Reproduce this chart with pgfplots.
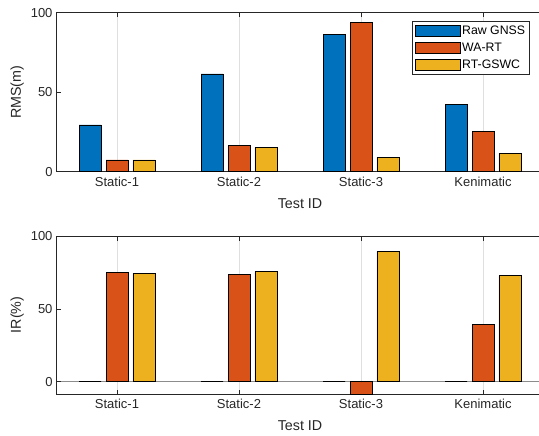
\documentclass[border=0pt]{standalone}
\usepackage{fontspec}
\setmainfont{Liberation Sans}
\usepackage{pgfplots}
\pgfplotsset{compat=1.18}
\definecolor{mblue}{RGB}{0,114,189}
\definecolor{morange}{RGB}{217,83,25}
\definecolor{myellow}{RGB}{237,177,32}
\definecolor{axgray}{RGB}{38,38,38}
\definecolor{gridgray}{RGB}{223,223,223}
\definecolor{basegray}{RGB}{140,140,140}
\pgfplotsset{layers/gridbelow/.define layer set={axis background,axis grid,pre main,main,axis ticks,axis lines,axis tick labels,axis descriptions,axis foreground}{}}
\pgfplotsset{
 mystyle/.style={
  set layers=gridbelow,
  scale only axis, width=488bp,
  xmin=0.5, xmax=4.5,
  xtick={1,2,3,4}, xticklabels={Static-1,Static-2,Static-3,Kenimatic},
  ytick={0,50,100},
  tick align=inside, xtick pos=both, ytick pos=both,
  xticklabel pos=lower, yticklabel pos=left,
  major tick length=4.5bp,
  tick style={axgray, line width=0.6bp},
  axis line style={axgray, line width=0.6bp},
  xmajorgrids, major x grid style={gridgray, line width=1bp},
  ticklabel style={font=\fontsize{13bp}{15bp}\selectfont, text=axgray},
  xticklabel style={yshift=-2bp},
  label style={font=\fontsize{14.3bp}{16bp}\selectfont, text=axgray},
  xlabel style={yshift=-5bp},
  /pgf/number format/assume math mode=true,
  anchor=north west,
 },
 mybar/.style={ybar, bar width=0.18, draw=black, line width=0.5bp},
}
\newcommand{\legrect}[1]{\draw[fill=#1,draw=black,line width=0.5bp] (0bp,-5.5bp) rectangle (45bp,5.5bp);}
\begin{document}
\begin{tikzpicture}
\begin{axis}[mystyle, name=top, at={(0,0)}, height=159bp,
  ymin=0, ymax=100,
  xlabel={Test ID}, ylabel={RMS(m)},
  legend cell align=left,
  legend style={at={(rel axis cs:0.971,0.948)}, anchor=north east, draw=axgray, line width=0.5bp,
    font=\fontsize{12.3bp}{14bp}\selectfont, inner xsep=3bp, inner ysep=2.5bp, row sep=3.2bp,
    nodes={inner xsep=1.5bp}},
]
\addplot[mybar, fill=mblue, bar shift=-0.221, legend image code/.code={\legrect{mblue}}] coordinates {(1,29.4) (2,61.6) (3,86.6) (4,42.4)};
\addlegendentry{Raw GNSS}
\addplot[mybar, fill=morange, bar shift=0, legend image code/.code={\legrect{morange}}] coordinates {(1,7.4) (2,16.4) (3,94.0) (4,25.4)};
\addlegendentry{WA-RT}
\addplot[mybar, fill=myellow, bar shift=0.221, legend image code/.code={\legrect{myellow}}] coordinates {(1,7.4) (2,15.3) (3,9.0) (4,11.6)};
\addlegendentry{RT-GSWC}
\end{axis}
\begin{axis}[mystyle, name=bottom, at={(0,-223.3bp)}, height=158bp,
  ymin=-8.44, ymax=100,
  xlabel={Test ID}, ylabel={IR(\%)},
  extra y ticks={0}, extra y tick labels={},
  extra y tick style={grid=major, major grid style={basegray, line width=0.8bp}},
]
\addplot[mybar, fill=mblue, bar shift=-0.221] coordinates {(1,0) (2,0) (3,0) (4,0)};
\addplot[mybar, fill=morange, bar shift=0] coordinates {(1,74.8) (2,73.7) (3,-8.7) (4,39.6)};
\addplot[mybar, fill=myellow, bar shift=0.221] coordinates {(1,74.4) (2,75.5) (3,89.5) (4,72.8)};
\end{axis}
\pgfresetboundingbox
\path[use as bounding box] (-56bp,12.7bp) rectangle (483bp,-423.3bp);
\end{tikzpicture}
\end{document}
